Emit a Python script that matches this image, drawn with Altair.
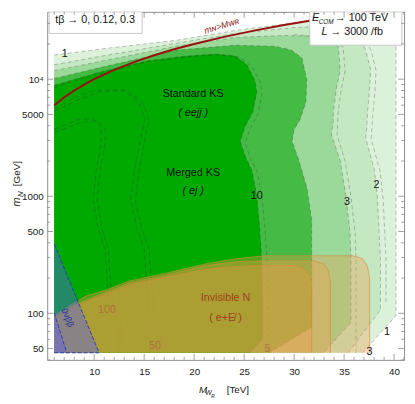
import altair as alt
import pandas as pd

# ---------------- data ----------------
XDOM = [5.3, 41.0]          # M_WR [TeV]
YDOM = [40, 37600]          # m_N [GeV]  (log)
W, H = 364, 355

# green discovery-significance regions: boundary from left border to bottom border
lev1_x = [6, 11.37, 18.24, 24.12, 30.0, 34.9, 39.31, 40.2, 40.2, 36.86]
lev1_y = [16090, 18410, 21500, 26060, 30400, 34800, 36150, 27100, 96, 46]
lev2_x = [6, 11.37, 18.24, 24.12, 30.0, 34.41, 36.37, 37.16, 37.65, 37.55, 37.35, 37.25, 37.16, 38.04, 38.33, 38.63, 38.63, 35.39]
lev2_y = [13280, 16090, 20280, 24600, 27600, 28700, 24600, 17720, 12060, 8200, 5260, 3580, 3130, 1660, 985, 292, 107, 46]
lev3_x = [6, 11.37, 18.24, 24.12, 29.02, 32.94, 34.41, 34.61, 34.22, 33.92, 33.92, 33.73, 34.61, 35.2, 35.59, 35.69, 35.69, 32.94]
lev3_y = [11830, 14620, 19150, 22750, 23650, 23200, 19150, 12060, 8200, 5260, 4340, 3380, 2010, 985, 492, 292, 84, 46]
lev5_x = [6, 11.37, 18.24, 24.12, 28.04, 29.71, 30.78, 31.27, 31.18, 30.59, 30.0, 29.8, 30.49, 31.27, 31.76, 31.76, 31.76, 27.55]
lev5_y = [10140, 13030, 17720, 19510, 19150, 17720, 15190, 9940, 6380, 4510, 3720, 2950, 2010, 1190, 633, 292, 76, 46]
lev10_x = [6, 10.39, 15.29, 19.22, 22.16, 24.12, 25.29, 26.08, 26.27, 25.88, 25.1, 24.61, 25.1, 25.78, 26.27, 26.57, 26.76, 26.86, 26.86, 25.59]
lev10_y = [8860, 11380, 14340, 15790, 16400, 15790, 13280, 9750, 7740, 5260, 3940, 2950, 2210, 1660, 1005, 522, 292, 135, 60, 46]
green_cols = ["#dcf1d9", "#c4e9c2", "#9bd99a", "#45bb45", "#00a900"]

# second set of dashed contours (other tβ values), slightly shifted
lev10b_x = [6, 10.39, 15.29, 19.22, 22.16, 24.6, 25.8, 26.6, 26.8, 26.4, 25.6, 25.1, 25.6, 26.3, 26.8, 27.1, 27.3, 27.4, 27.4]
lev10b_y = [8500, 11000, 14000, 15500, 16100, 15400, 12800, 9500, 7500, 5100, 3800, 2850, 2150, 1620, 980, 510, 285, 132, 46]
lev3b_x = [30.0, 33.4, 34.9, 35.1, 34.7, 34.4, 34.3, 35.1, 35.7, 36.1, 36.2, 36.2]
lev3b_y = [24000, 22800, 18800, 11800, 8000, 5150, 3350, 1990, 975, 487, 289, 46]
lev2b_x = [35.0, 36.9, 37.7, 38.2, 38.1, 37.9, 37.7, 38.6, 38.9, 39.2, 39.2]
lev2b_y = [28000, 24000, 17500, 11900, 8100, 5200, 3100, 1640, 975, 290, 120]

# dashed contours inside the dark region (pairs)
c100_x = [6, 8.43, 9.9, 10.69, 10.69, 10.2, 9.9, 10.39, 11.08, 11.37, 11.57, 12.35, 12.45]
c100_y = [3730, 4510, 4600, 3940, 2950, 1660, 930, 522, 355, 164, 112, 84, 46]
c100b_x = [6, 8.8, 10.3, 11.1, 11.1, 10.6, 10.3, 10.8, 11.4, 11.7, 11.9, 12.7, 12.8]
c100b_y = [3500, 4300, 4400, 3800, 2900, 1640, 920, 518, 352, 163, 111, 83, 46]
c50_x = [6, 7.94, 10.2, 12.84, 14.41, 15.1, 14.8, 14.02, 13.63, 14.31, 15.0, 15.29, 15.49, 16.27, 16.37]
c50_y = [5570, 6890, 8040, 8200, 6380, 4600, 3580, 1660, 930, 522, 355, 164, 92, 69, 46]
c50b_x = [6, 8.3, 10.6, 13.3, 14.9, 15.5, 15.2, 14.5, 14.1, 14.8, 15.5, 15.8, 16.0, 16.7, 16.8]
c50b_y = [5300, 6600, 7800, 8000, 6200, 4500, 3500, 1640, 920, 518, 352, 163, 91, 68, 46]

# invisible-N regions (three tβ values)
oo_x = [6, 8.04, 9.22, 11.18, 13.43, 17.06, 21.18, 24.12, 27.06, 35.88, 36.86, 37.35, 37.55, 37.55]
oo_y = [96, 123, 141, 158, 188, 219, 265, 292, 310, 310, 292, 251, 199, 46]
om_x = [6, 8.04, 11.18, 13.43, 17.06, 21.18, 24.12, 27.06, 31.96, 32.94, 33.43, 33.63, 33.63]
om_y = [92, 118, 152, 181, 211, 256, 276, 281, 281, 265, 232, 181, 46]
oi_x = [6, 8.04, 11.18, 13.43, 17.06, 21.18, 24.12, 27.06, 30.0, 30.98, 31.57, 31.76, 31.76]
oi_y = [89, 114, 146, 174, 203, 237, 251, 256, 256, 241, 211, 164, 46]

# 0νββ excluded regions
bo_x = [6, 10.49, 6]
bo_y = [391, 46, 46]
bi_x = [6, 7.25, 6]
bi_y = [101, 46, 46]

# m_N = M_WR line
red_x = [6, 7, 8, 9, 10, 12, 14, 16, 18, 20, 23, 26, 29, 32, 35, 38, 41]
red_y = [6000, 7000, 8000, 9000, 10000, 12000, 14000, 16000, 18000, 20000, 23000, 26000, 29000, 32000, 35000, 38000, 41000]

# ticks
x_major = [10, 15, 20, 25, 30, 35, 40]
x_minor = [v for v in range(6, 42) if v not in x_major]
y_major = [50, 100, 500, 1000, 5000, 10000]
y_minor = [40, 60, 70, 80, 90, 200, 300, 400, 600, 700, 800, 900,
           2000, 3000, 4000, 6000, 7000, 8000, 9000, 20000, 30000]

FONT = "Liberation Sans"

xscale = alt.Scale(domain=XDOM, nice=False, zero=False)
yscale = alt.Scale(type="log", domain=YDOM, nice=False)
xaxis = alt.Axis(values=x_major, title=None, labelFontSize=10, labelPadding=7, ticks=False,
                 domain=False, grid=False, labelColor="#222", labelFont=FONT)
yaxis = alt.Axis(values=y_major, title=None, labelFontSize=10, labelPadding=4, ticks=False,
                 domain=False, grid=False, labelColor="#222", labelFont=FONT, format="d",
                 labelExpr="datum.value == 10000 ? '10⁴' : datum.label")


def X():
    return alt.X("x:Q", scale=xscale, axis=xaxis)


def Y():
    return alt.Y("y:Q", scale=yscale, axis=yaxis)


def frame(xs, ys):
    return pd.DataFrame({"x": xs, "y": ys, "i": list(range(len(xs)))})


def poly(xs, ys, color, opacity=1.0):
    df = frame(list(xs) + [6], list(ys) + [46])
    return alt.Chart(df).mark_line(filled=True, fill=color, fillOpacity=opacity,
                                   interpolate="linear-closed", strokeWidth=0, clip=True
                                   ).encode(x=X(), y=Y(), order="i:Q")


def line(xs, ys, color, width=1.0, dash=None, opacity=1.0):
    kw = dict(color=color, strokeWidth=width, opacity=opacity, clip=True)
    if dash:
        kw["strokeDash"] = dash
    return alt.Chart(frame(xs, ys)).mark_line(**kw).encode(x=X(), y=Y(), order="i:Q")


def texts(xs, ys, labels, **kw):
    df = pd.DataFrame({"x": xs, "y": ys, "t": labels})
    base = dict(font=FONT, fontSize=11, color="#111")
    base.update(kw)
    return alt.Chart(df).mark_text(**base).encode(x=X(), y=Y(), text="t:N")


layers = []
levels = [(lev1_x, lev1_y), (lev2_x, lev2_y), (lev3_x, lev3_y), (lev5_x, lev5_y), (lev10_x, lev10_y)]
for (lx, ly), col in zip(levels, green_cols):
    layers.append(poly(lx, ly, col))
for lx, ly in levels + [(lev10b_x, lev10b_y), (lev3b_x, lev3b_y), (lev2b_x, lev2b_y)]:
    layers.append(line(lx, ly, "#333", 0.7, [4, 3], 0.45))
for cx, cy in [(c100_x, c100_y), (c100b_x, c100b_y), (c50_x, c50_y), (c50b_x, c50b_y)]:
    layers.append(line(cx, cy, "#333", 0.7, [5, 3], 0.45))

# red line
layers.append(line(red_x, red_y, "#9a1010", 2.0))

# orange regions
for ox, oy in [(oo_x, oo_y), (om_x, om_y), (oi_x, oi_y)]:
    layers.append(poly(ox, oy, "#f09a4a", 0.34))
for ox, oy in [(oo_x, oo_y), (om_x, om_y), (oi_x, oi_y)]:
    layers.append(line(ox, oy, "#d98a3a", 0.8, None, 0.8))

# blue regions
layers.append(poly(bo_x, bo_y, "#5a5aff", 0.4))
layers.append(poly(bi_x, bi_y, "#5a5aff", 0.35))
layers.append(line(bo_x[:2], bo_y[:2], "#2a3ab0", 1.0, [4, 2]))
layers.append(line(bi_x[:2], bi_y[:2], "#2a3ab0", 1.0, [4, 2]))
layers.append(line([6, 10.49], [46, 46], "#2a3ab0", 1.0, [4, 2]))

# labels
layers.append(texts([7.06, 39.3, 26.27, 35.3, 38.24, 37.55],
                    [16400, 69, 1005, 890, 1240, 47],
                    ["1", "1", "10", "3", "2", "3"]))
layers.append(texts([11.27, 16.08, 27.35], [107, 52.6, 49.7], ["100", "50", "5"], color="#b0703a"))
layers.append(texts([19.9, 19.9], [7450, 1590], ["Standard KS", "Merged KS"], fontSize=11))
layers.append(texts([19.9, 19.9], [5160, 1105], ["( eejj )", "( ej )"], fontSize=11, fontStyle="italic"))
layers.append(texts([23.14], [135], ["Invisible N"], fontSize=11, color="#a0401a"))
layers.append(texts([23.14], [91], ["( e+E\u0338 )"], fontSize=11, color="#a0401a"))
layers.append(texts([7.35], [92], ["0νββ"], fontSize=9, angle=68, color="#223399"))
layers.append(texts([22.75], [28600], ["mɴ>Mᴡʀ"], fontSize=9, angle=343, color="#8b1a1a",
                    fontStyle="italic"))

# legend boxes
boxes = pd.DataFrame({"x": [5.49, 31.57], "x2": [14.8, 40.78], "y": [37600, 37600], "y2": [24600, 19510]})
layers.append(alt.Chart(boxes).mark_rect(fill="white", stroke="#c8c8c8", strokeWidth=1, clip=True)
              .encode(x=X(), x2="x2:Q", y=Y(), y2="y2:Q"))
layers.append(texts([10.1], [32200], ["tβ → 0, 0.12, 0.3"], fontSize=11))
layers.append(texts([32.16, 33.04], [33500, 25100], ["E", "L"], fontSize=11, fontStyle="italic"))
layers.append(texts([33.2], [30800], ["COM"], fontSize=6.5, fontStyle="italic"))
layers.append(texts([34.1, 33.63], [33500, 25100], ["→ 100 TeV", "→ 3000 /fb"], fontSize=11, align="left"))

# frame ticks (pointing inward)
tick_col = "#888"
for vals, ln in [(x_major, 6), (x_minor, 3)]:
    d = pd.DataFrame({"x": vals})
    layers.append(alt.Chart(d).mark_rule(color=tick_col, strokeWidth=0.8)
                  .encode(x=X(), y=alt.value(H), y2=alt.value(H - ln)))
    layers.append(alt.Chart(d).mark_rule(color=tick_col, strokeWidth=0.8)
                  .encode(x=X(), y=alt.value(0), y2=alt.value(ln)))
for vals, ln in [(y_major, 6), (y_minor, 3)]:
    d = pd.DataFrame({"y": vals})
    layers.append(alt.Chart(d).mark_rule(color=tick_col, strokeWidth=0.8)
                  .encode(y=Y(), x=alt.value(0), x2=alt.value(ln)))
    layers.append(alt.Chart(d).mark_rule(color=tick_col, strokeWidth=0.8)
                  .encode(y=Y(), x=alt.value(W), x2=alt.value(W - ln)))


# axis titles
def title_text(s, xpx, ypx, size, italic=False, angle=0):
    kw = dict(font=FONT, fontSize=size, color="#222", angle=angle)
    if italic:
        kw["fontStyle"] = "italic"
    return alt.Chart(pd.DataFrame({"t": [s]})).mark_text(**kw).encode(
        x=alt.value(xpx), y=alt.value(ypx), text="t:N")


layers += [
    title_text("m", -31, 194, 11, True, 270),
    title_text("N", -27, 186, 8, True, 270),
    title_text("[GeV]", -31, 165, 10, False, 270),
    title_text("M", 159, 386, 10, True),
    title_text("W", 164.5, 389, 7, True),
    title_text("R", 169, 391.5, 5, True),
    title_text("[TeV]", 194.5, 386, 10, False),
]

chart = alt.layer(*layers).properties(
    width=W, height=H,
    padding={"left": 40, "top": 0, "right": 3, "bottom": 38},
    autosize=alt.AutoSizeParams(type="none"),
).configure_view(stroke="#8c8c8c", strokeWidth=1)

chart.save("out.html", embed_options={"renderer": "svg", "actions": False})
